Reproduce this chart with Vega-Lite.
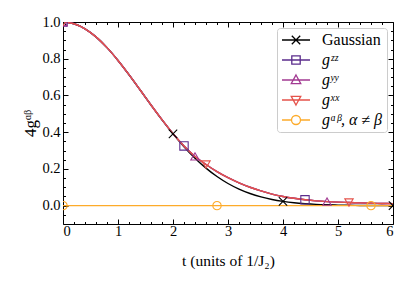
{
  "$schema": "https://vega.github.io/schema/vega-lite/v6.json",
  "width": 330,
  "height": 202,
  "autosize": {"type": "none"},
  "padding": {"left": 63, "top": 22, "right": 22, "bottom": 71},
  "background": "white",
  "config": {
    "view": {"stroke": null},
    "font": "Liberation Serif",
    "axis": {"grid": false, "domainColor": "black", "tickColor": "black", "labelColor": "black", "titleColor": "black", "labelFont": "Liberation Serif", "titleFont": "Liberation Serif", "labelFontSize": 14.5, "titleFontSize": 15.5, "titleFontWeight": "normal", "domainWidth": 1, "tickWidth": 1}
  },
  "datasets": {
    "curves": [
      {"series": "Gaussian", "t": 0, "v": 1.0}, {"series": "Gaussian", "t": 0.2, "v": 0.9906}, {"series": "Gaussian", "t": 0.4, "v": 0.9631}, {"series": "Gaussian", "t": 0.6, "v": 0.9189}, {"series": "Gaussian", "t": 0.8, "v": 0.8604}, {"series": "Gaussian", "t": 1.0, "v": 0.7906}, {"series": "Gaussian", "t": 1.2, "v": 0.7129}, {"series": "Gaussian", "t": 1.4, "v": 0.6309}, {"series": "Gaussian", "t": 1.6, "v": 0.548}, {"series": "Gaussian", "t": 1.8, "v": 0.467}, {"series": "Gaussian", "t": 2.0, "v": 0.3906}, {"series": "Gaussian", "t": 2.2, "v": 0.3206}, {"series": "Gaussian", "t": 2.4, "v": 0.2583}, {"series": "Gaussian", "t": 2.6, "v": 0.2042}, {"series": "Gaussian", "t": 2.8, "v": 0.1584}, {"series": "Gaussian", "t": 3.0, "v": 0.1206}, {"series": "Gaussian", "t": 3.2, "v": 0.0901}, {"series": "Gaussian", "t": 3.4, "v": 0.0661}, {"series": "Gaussian", "t": 3.6, "v": 0.0476}, {"series": "Gaussian", "t": 3.8, "v": 0.0336}, {"series": "Gaussian", "t": 4.0, "v": 0.0233}, {"series": "Gaussian", "t": 4.2, "v": 0.0158}, {"series": "Gaussian", "t": 4.4, "v": 0.0106}, {"series": "Gaussian", "t": 4.6, "v": 0.0069}, {"series": "Gaussian", "t": 4.8, "v": 0.0045}, {"series": "Gaussian", "t": 5.0, "v": 0.0028}, {"series": "Gaussian", "t": 5.2, "v": 0.0017}, {"series": "Gaussian", "t": 5.4, "v": 0.001}, {"series": "Gaussian", "t": 5.6, "v": 0.0006}, {"series": "Gaussian", "t": 5.8, "v": 0.0004}, {"series": "Gaussian", "t": 6.0, "v": 0.0002},
      {"series": "gᶻᶻ", "t": 0, "v": 1.0}, {"series": "gᶻᶻ", "t": 0.2, "v": 0.9906}, {"series": "gᶻᶻ", "t": 0.4, "v": 0.9631}, {"series": "gᶻᶻ", "t": 0.6, "v": 0.9189}, {"series": "gᶻᶻ", "t": 0.8, "v": 0.8604}, {"series": "gᶻᶻ", "t": 1.0, "v": 0.7906}, {"series": "gᶻᶻ", "t": 1.2, "v": 0.713}, {"series": "gᶻᶻ", "t": 1.4, "v": 0.631}, {"series": "gᶻᶻ", "t": 1.6, "v": 0.548}, {"series": "gᶻᶻ", "t": 1.8, "v": 0.468}, {"series": "gᶻᶻ", "t": 2.0, "v": 0.392}, {"series": "gᶻᶻ", "t": 2.2, "v": 0.325}, {"series": "gᶻᶻ", "t": 2.4, "v": 0.268}, {"series": "gᶻᶻ", "t": 2.6, "v": 0.224}, {"series": "gᶻᶻ", "t": 2.8, "v": 0.185}, {"series": "gᶻᶻ", "t": 3.0, "v": 0.152}, {"series": "gᶻᶻ", "t": 3.2, "v": 0.124}, {"series": "gᶻᶻ", "t": 3.4, "v": 0.1}, {"series": "gᶻᶻ", "t": 3.6, "v": 0.08}, {"series": "gᶻᶻ", "t": 3.8, "v": 0.063}, {"series": "gᶻᶻ", "t": 4.0, "v": 0.05}, {"series": "gᶻᶻ", "t": 4.2, "v": 0.04}, {"series": "gᶻᶻ", "t": 4.4, "v": 0.032}, {"series": "gᶻᶻ", "t": 4.6, "v": 0.026}, {"series": "gᶻᶻ", "t": 4.8, "v": 0.022}, {"series": "gᶻᶻ", "t": 5.0, "v": 0.019}, {"series": "gᶻᶻ", "t": 5.2, "v": 0.017}, {"series": "gᶻᶻ", "t": 5.4, "v": 0.015}, {"series": "gᶻᶻ", "t": 5.6, "v": 0.013}, {"series": "gᶻᶻ", "t": 5.8, "v": 0.012}, {"series": "gᶻᶻ", "t": 6.0, "v": 0.011},
      {"series": "gʸʸ", "t": 0, "v": 1.0}, {"series": "gʸʸ", "t": 0.2, "v": 0.9906}, {"series": "gʸʸ", "t": 0.4, "v": 0.9631}, {"series": "gʸʸ", "t": 0.6, "v": 0.9189}, {"series": "gʸʸ", "t": 0.8, "v": 0.8604}, {"series": "gʸʸ", "t": 1.0, "v": 0.7906}, {"series": "gʸʸ", "t": 1.2, "v": 0.713}, {"series": "gʸʸ", "t": 1.4, "v": 0.631}, {"series": "gʸʸ", "t": 1.6, "v": 0.548}, {"series": "gʸʸ", "t": 1.8, "v": 0.468}, {"series": "gʸʸ", "t": 2.0, "v": 0.392}, {"series": "gʸʸ", "t": 2.2, "v": 0.325}, {"series": "gʸʸ", "t": 2.4, "v": 0.268}, {"series": "gʸʸ", "t": 2.6, "v": 0.224}, {"series": "gʸʸ", "t": 2.8, "v": 0.185}, {"series": "gʸʸ", "t": 3.0, "v": 0.152}, {"series": "gʸʸ", "t": 3.2, "v": 0.124}, {"series": "gʸʸ", "t": 3.4, "v": 0.1}, {"series": "gʸʸ", "t": 3.6, "v": 0.08}, {"series": "gʸʸ", "t": 3.8, "v": 0.063}, {"series": "gʸʸ", "t": 4.0, "v": 0.05}, {"series": "gʸʸ", "t": 4.2, "v": 0.04}, {"series": "gʸʸ", "t": 4.4, "v": 0.032}, {"series": "gʸʸ", "t": 4.6, "v": 0.026}, {"series": "gʸʸ", "t": 4.8, "v": 0.022}, {"series": "gʸʸ", "t": 5.0, "v": 0.019}, {"series": "gʸʸ", "t": 5.2, "v": 0.017}, {"series": "gʸʸ", "t": 5.4, "v": 0.015}, {"series": "gʸʸ", "t": 5.6, "v": 0.013}, {"series": "gʸʸ", "t": 5.8, "v": 0.012}, {"series": "gʸʸ", "t": 6.0, "v": 0.011},
      {"series": "gˣˣ", "t": 0, "v": 1.0}, {"series": "gˣˣ", "t": 0.2, "v": 0.9906}, {"series": "gˣˣ", "t": 0.4, "v": 0.9631}, {"series": "gˣˣ", "t": 0.6, "v": 0.9189}, {"series": "gˣˣ", "t": 0.8, "v": 0.8604}, {"series": "gˣˣ", "t": 1.0, "v": 0.7906}, {"series": "gˣˣ", "t": 1.2, "v": 0.713}, {"series": "gˣˣ", "t": 1.4, "v": 0.631}, {"series": "gˣˣ", "t": 1.6, "v": 0.548}, {"series": "gˣˣ", "t": 1.8, "v": 0.468}, {"series": "gˣˣ", "t": 2.0, "v": 0.392}, {"series": "gˣˣ", "t": 2.2, "v": 0.325}, {"series": "gˣˣ", "t": 2.4, "v": 0.268}, {"series": "gˣˣ", "t": 2.6, "v": 0.224}, {"series": "gˣˣ", "t": 2.8, "v": 0.185}, {"series": "gˣˣ", "t": 3.0, "v": 0.152}, {"series": "gˣˣ", "t": 3.2, "v": 0.124}, {"series": "gˣˣ", "t": 3.4, "v": 0.1}, {"series": "gˣˣ", "t": 3.6, "v": 0.08}, {"series": "gˣˣ", "t": 3.8, "v": 0.063}, {"series": "gˣˣ", "t": 4.0, "v": 0.05}, {"series": "gˣˣ", "t": 4.2, "v": 0.04}, {"series": "gˣˣ", "t": 4.4, "v": 0.032}, {"series": "gˣˣ", "t": 4.6, "v": 0.026}, {"series": "gˣˣ", "t": 4.8, "v": 0.022}, {"series": "gˣˣ", "t": 5.0, "v": 0.019}, {"series": "gˣˣ", "t": 5.2, "v": 0.017}, {"series": "gˣˣ", "t": 5.4, "v": 0.015}, {"series": "gˣˣ", "t": 5.6, "v": 0.013}, {"series": "gˣˣ", "t": 5.8, "v": 0.012}, {"series": "gˣˣ", "t": 6.0, "v": 0.011},
      {"series": "gᵅᵝ, α ≠ β", "t": 0, "v": 0.0}, {"series": "gᵅᵝ, α ≠ β", "t": 6.0, "v": 0.0}
    ],
    "markers": [
      {"series": "Gaussian", "t": 0, "v": 1.0}, {"series": "Gaussian", "t": 2.0, "v": 0.3906}, {"series": "Gaussian", "t": 4.0, "v": 0.0233}, {"series": "Gaussian", "t": 6.0, "v": 0.0002},
      {"series": "gᶻᶻ", "t": 0, "v": 1.0}, {"series": "gᶻᶻ", "t": 2.2, "v": 0.325}, {"series": "gᶻᶻ", "t": 4.4, "v": 0.032},
      {"series": "gʸʸ", "t": 0, "v": 1.0}, {"series": "gʸʸ", "t": 2.4, "v": 0.268}, {"series": "gʸʸ", "t": 4.8, "v": 0.022},
      {"series": "gˣˣ", "t": 0, "v": 1.0}, {"series": "gˣˣ", "t": 2.6, "v": 0.224}, {"series": "gˣˣ", "t": 5.2, "v": 0.017},
      {"series": "gᵅᵝ, α ≠ β", "t": 0, "v": 0.0}, {"series": "gᵅᵝ, α ≠ β", "t": 2.8, "v": 0.0}, {"series": "gᵅᵝ, α ≠ β", "t": 5.6, "v": 0.0}
    ]
  },
  "resolve": {"axis": {"x": "independent", "y": "independent"}},
  "layer": [
    {
      "data": {"name": "curves"},
      "mark": {"type": "line", "strokeWidth": 1.4, "clip": true, "interpolate": "monotone"},
      "encoding": {
        "x": {"field": "t", "type": "quantitative", "scale": {"domain": [0, 6], "nice": false, "zero": false},
          "axis": {"orient": "bottom", "values": [0, 1, 2, 3, 4, 5, 6], "format": "d", "tickSize": -5, "labelPadding": 5, "title": "t  (units of 1/J₂)", "titlePadding": 16}},
        "y": {"field": "v", "type": "quantitative", "scale": {"domain": [-0.1, 1.0], "nice": false, "zero": false},
          "axis": {"orient": "left", "values": [0, 0.2, 0.4, 0.6, 0.8, 1.0], "format": ".1f", "tickSize": -5, "labelPadding": 8, "title": "4gᵅᵝ", "titleFontSize": 17, "titlePadding": 2}},
        "color": {"field": "series", "type": "nominal", "sort": null,
          "scale": {"domain": ["Gaussian", "gᶻᶻ", "gʸʸ", "gˣˣ", "gᵅᵝ, α ≠ β"], "range": ["#000000", "#5b2c8c", "#a23a92", "#e5534b", "#fdab2a"]},
          "legend": {
            "orient": "top-right", "offset": 6, "title": null,
            "symbolSize": 196, "symbolStrokeWidth": 1.3,
            "labelFont": "Liberation Serif", "labelFontSize": 16, "labelColor": "black", "labelOffset": 25,
            "padding": 4, "rowPadding": 4,
            "strokeColor": "#cccccc", "fillColor": "rgba(255,255,255,0.85)", "cornerRadius": 3,
            "encode": {
              "symbols": {"update": {
                "shape": {"signal": "['M-1,0H3M0.4,-0.6L1.6,0.6M0.4,0.6L1.6,-0.6','M-1,0H3M0.4,-0.6H1.6V0.6H0.4Z','M-1,0H3M1,-0.72L1.68,0.52H0.32Z','M-1,0H3M1,0.72L1.68,-0.52H0.32Z','M-1,0H0.36M1.64,0H3M0.36,0A0.64,0.64 0 1,0 1.64,0A0.64,0.64 0 1,0 0.36,0Z'][datum.index]"},
                "fill": {"value": "transparent"},
                "strokeWidth": {"value": 1.3}
              }},
              "labels": {"update": {"fontStyle": {"signal": "datum.index > 0 ? 'italic' : 'normal'"}}}
            }
          }}
      }
    },
    {
      "data": {"name": "markers"},
      "mark": {"type": "point", "filled": false, "strokeWidth": 1.1, "size": 70, "clip": true, "opacity": 1},
      "encoding": {
        "x": {"field": "t", "type": "quantitative", "axis": null},
        "y": {"field": "v", "type": "quantitative", "axis": null},
        "color": {"field": "series", "type": "nominal", "sort": null, "legend": null},
        "shape": {"condition": [
          {"test": "datum.series === 'Gaussian'", "value": "M-1,-1L1,1M-1,1L1,-1"},
          {"test": "datum.series === 'gᶻᶻ'", "value": "square"},
          {"test": "datum.series === 'gʸʸ'", "value": "triangle-up"},
          {"test": "datum.series === 'gˣˣ'", "value": "triangle-down"}
        ], "value": "circle"}
      }
    },
    {
      "data": {"name": "markers"},
      "mark": {"type": "point", "opacity": 0},
      "encoding": {
        "x": {"field": "t", "type": "quantitative", "axis": {"orient": "top", "values": [0, 1, 2, 3, 4, 5, 6], "labels": false, "tickSize": -5, "title": null}},
        "y": {"field": "v", "type": "quantitative", "axis": {"orient": "right", "values": [0, 0.2, 0.4, 0.6, 0.8, 1.0], "labels": false, "tickSize": -5, "title": null}}
      }
    },
    {
      "data": {"name": "markers"},
      "mark": {"type": "point", "opacity": 0},
      "encoding": {
        "x": {"field": "t", "type": "quantitative", "axis": {"orient": "bottom", "values": [0.2, 0.4, 0.6, 0.8, 1.2, 1.4, 1.6, 1.8, 2.2, 2.4, 2.6, 2.8, 3.2, 3.4, 3.6, 3.8, 4.2, 4.4, 4.6, 4.8, 5.2, 5.4, 5.6, 5.8], "labels": false, "domain": false, "tickSize": -2.5, "title": null}},
        "y": {"field": "v", "type": "quantitative", "axis": {"orient": "left", "values": [-0.05, 0.05, 0.1, 0.15, 0.25, 0.3, 0.35, 0.45, 0.5, 0.55, 0.65, 0.7, 0.75, 0.85, 0.9, 0.95], "labels": false, "domain": false, "tickSize": -2.5, "title": null}}
      }
    },
    {
      "data": {"name": "markers"},
      "mark": {"type": "point", "opacity": 0},
      "encoding": {
        "x": {"field": "t", "type": "quantitative", "axis": {"orient": "top", "values": [0.2, 0.4, 0.6, 0.8, 1.2, 1.4, 1.6, 1.8, 2.2, 2.4, 2.6, 2.8, 3.2, 3.4, 3.6, 3.8, 4.2, 4.4, 4.6, 4.8, 5.2, 5.4, 5.6, 5.8], "labels": false, "domain": false, "tickSize": -2.5, "title": null}},
        "y": {"field": "v", "type": "quantitative", "axis": {"orient": "right", "values": [-0.05, 0.05, 0.1, 0.15, 0.25, 0.3, 0.35, 0.45, 0.5, 0.55, 0.65, 0.7, 0.75, 0.85, 0.9, 0.95], "labels": false, "domain": false, "tickSize": -2.5, "title": null}}
      }
    }
  ]
}
